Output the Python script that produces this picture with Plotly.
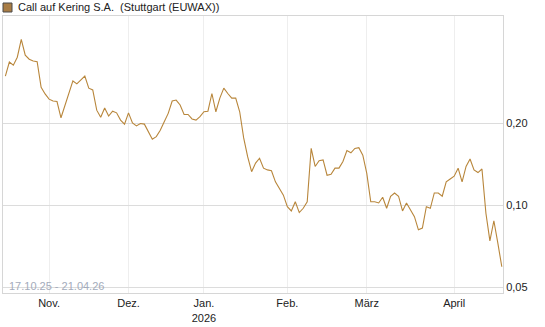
import pandas as pd
import plotly.graph_objects as go

title_text = "Call auf Kering S.A.  (Stuttgart (EUWAX))"
range_text = "17.10.25 - 21.04.26"
holidays = ["2025-12-24", "2025-12-25", "2025-12-26", "2025-12-31",
            "2026-01-01", "2026-04-03", "2026-04-06"]
month_labels = ["Nov.", "Dez.", "Jan.<br>2026", "Feb.", "März", "April"]
y_ticks = [0.05, 0.10, 0.20]

values = [
    0.299, 0.337, 0.328, 0.351, 0.408, 0.357, 0.345, 0.340, 0.338, 0.272,
    0.257, 0.246, 0.242, 0.241, 0.210, 0.234, 0.262, 0.287, 0.280, 0.289,
    0.299, 0.270, 0.266, 0.224, 0.211, 0.228, 0.213, 0.222, 0.219, 0.206,
    0.199, 0.219, 0.201, 0.196, 0.200, 0.199, 0.187, 0.175, 0.179, 0.189,
    0.203, 0.218, 0.242, 0.244, 0.234, 0.216, 0.216, 0.208, 0.206, 0.212,
    0.221, 0.222, 0.258, 0.221, 0.248, 0.270, 0.258, 0.248, 0.248, 0.221,
    0.177, 0.151, 0.133, 0.143, 0.149, 0.137, 0.135, 0.134, 0.122, 0.115,
    0.109, 0.0988, 0.0953, 0.103, 0.094, 0.0975, 0.103, 0.162, 0.139, 0.146,
    0.147, 0.129, 0.130, 0.137, 0.137, 0.145, 0.159, 0.156, 0.162, 0.163,
    0.153, 0.131, 0.103, 0.103, 0.102, 0.107, 0.0975, 0.108, 0.111, 0.108,
    0.0953, 0.102, 0.0962, 0.0908, 0.0812, 0.0824, 0.0988, 0.0975, 0.111, 0.111,
    0.108, 0.122, 0.125, 0.128, 0.137, 0.122, 0.139, 0.148, 0.135, 0.132,
    0.136, 0.0935, 0.0740, 0.0877, 0.0725, 0.0594,
]

hol = set(pd.to_datetime(holidays))
days = [d for d in pd.bdate_range("2025-10-17", "2026-04-21") if d not in hol]
dates = [d.strftime("%Y-%m-%d") for d in days]
assert len(dates) == len(values)

# first trading day of each month (after the first month)
tick_vals = []
seen = {(days[0].year, days[0].month)}
for d, s in zip(days, dates):
    key = (d.year, d.month)
    if key not in seen:
        seen.add(key)
        tick_vals.append(s)

line_color = "#b8863b"
font = "Liberation Sans, Arial, sans-serif"

fig = go.Figure()
fig.add_trace(go.Scatter(x=dates, y=values, mode="lines",
                         line=dict(color=line_color, width=1.1),
                         showlegend=False))

fig.update_layout(
    width=545, height=327,
    margin=dict(l=3, r=42, t=16, b=34),
    paper_bgcolor="white", plot_bgcolor="white",
    font=dict(family=font, size=11, color="#222222"),
    separators=",.",
    xaxis=dict(
        type="category", range=[-0.6, 125.3],
        tickmode="array", tickvals=tick_vals, ticktext=month_labels,
        showgrid=True, gridcolor="#eeeeee", gridwidth=1,
        showline=True, linecolor="#d6d6d6", linewidth=1, mirror=True,
        ticks="", tickfont=dict(size=11, color="#222222"),
        zeroline=False,
    ),
    yaxis=dict(
        type="log", side="right",
        range=[-1.323, -0.303],
        tickmode="array", tickvals=y_ticks,
        ticktext=[f"{v:.2f}".replace(".", ",") for v in y_ticks],
        showgrid=True, gridcolor="#dcdcdc", gridwidth=1,
        showline=True, linecolor="#d6d6d6", linewidth=1, mirror=True,
        ticks="", tickfont=dict(size=11, color="#222222"),
        zeroline=False,
    ),
    hovermode=False,
)

fig.add_shape(type="rect", xref="paper", yref="paper",
              xsizemode="pixel", ysizemode="pixel",
              xanchor=0, yanchor=1, x0=0, x1=9, y0=4, y1=13,
              fillcolor="#a97d45", line=dict(color="#4a4a4a", width=1))
fig.add_annotation(text=title_text, xref="paper", yref="paper",
                   x=0, y=1, xanchor="left", yanchor="middle",
                   xshift=13, yshift=9, showarrow=False,
                   font=dict(family=font, size=11, color="#222222"))
fig.add_annotation(text=range_text, xref="paper", yref="paper",
                   x=0, y=0, xanchor="left", yanchor="middle",
                   xshift=4, yshift=7, showarrow=False,
                   font=dict(family=font, size=11, color="#a3abbb"))

fig.write_html("out.html")
